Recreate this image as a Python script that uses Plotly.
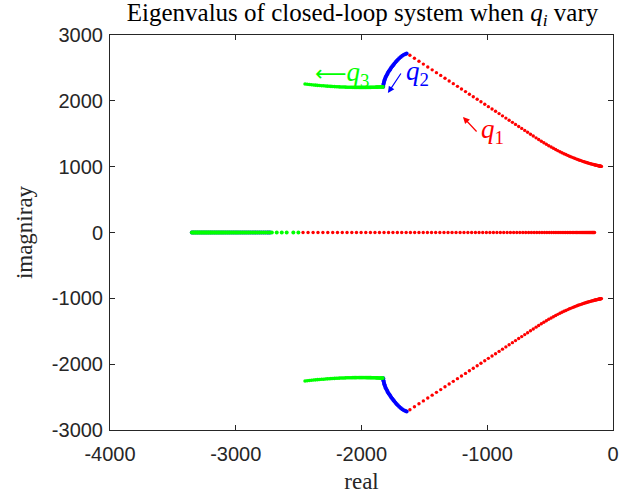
import plotly.graph_objects as go

# ---------------- data ----------------
# q1 sweep (red): complex branch (upper half) and real-axis branch
red_up_x = [-1615, -1579, -1543, -1508, -1473, -1438, -1404, -1370, -1336, -1303,
            -1270, -1237, -1205, -1173, -1142, -1111, -1080, -1050, -1020, -991,
            -962, -934, -906, -879, -852, -826, -800, -775, -750, -726,
            -702, -679, -656, -634, -612, -591, -570, -550, -530, -511,
            -492, -474, -456, -439, -422, -406, -390, -375, -360, -346,
            -332, -319, -306, -294, -282, -271, -260, -250, -240, -230,
            -221, -212, -204, -196, -188, -181, -174, -167, -160, -154,
            -148, -142, -137, -132, -127, -122, -117, -112, -108, -104,
            -100, -96, -92]
red_up_y = [2692, 2647, 2602, 2558, 2515, 2471, 2428, 2386, 2343, 2302,
            2261, 2220, 2180, 2140, 2101, 2062, 2023, 1986, 1948, 1912,
            1876, 1841, 1806, 1772, 1738, 1706, 1673, 1642, 1611, 1581,
            1551, 1522, 1493, 1466, 1438, 1412, 1386, 1363, 1340, 1318,
            1298, 1279, 1260, 1243, 1227, 1212, 1197, 1184, 1171, 1159,
            1148, 1138, 1128, 1119, 1110, 1102, 1095, 1088, 1081, 1075,
            1069, 1064, 1059, 1054, 1050, 1046, 1042, 1039, 1035, 1032,
            1029, 1026, 1024, 1021, 1019, 1017, 1015, 1012, 1010, 1009,
            1007, 1006, 1004]
red_real_x = [-2465, -2425, -2385, -2346, -2307, -2268, -2229, -2191, -2153, -2115,
              -2077, -2040, -2003, -1966, -1929, -1893, -1857, -1821, -1785, -1750,
              -1715, -1680, -1645, -1611, -1577, -1543, -1509, -1476, -1443, -1410,
              -1377, -1344, -1312, -1280, -1248, -1216, -1185, -1154, -1124, -1094,
              -1065, -1036, -1007, -979, -951, -923, -896, -869, -842, -816,
              -790, -765, -741, -717, -694, -671, -649, -627, -606, -585,
              -565, -545, -526, -507, -489, -471, -454, -437, -421, -405,
              -390, -376, -362, -349, -336, -324, -312, -301, -290, -280,
              -270, -261, -252, -243, -235, -227, -219, -212, -205, -198,
              -191, -185, -179, -173, -167, -162, -157, -152, -147]

# q2 sweep (blue)
blue_up_x = [-1827, -1826, -1824, -1821, -1818, -1815, -1811, -1806, -1801, -1796,
             -1790, -1784, -1777, -1770, -1763, -1755, -1747, -1739, -1730, -1721,
             -1711, -1700, -1688, -1676, -1663, -1650, -1641]
blue_up_y = [2215, 2245, 2265, 2285, 2305, 2325, 2345, 2365, 2385, 2405,
             2425, 2445, 2465, 2485, 2505, 2525, 2545, 2565, 2585, 2605,
             2625, 2645, 2665, 2683, 2699, 2712, 2720]
blue_real_x = [-3349, -3335, -3320, -3305, -3290, -3275, -3260, -3245, -3230, -3215,
               -3200, -3185, -3170, -3155, -3140, -3125, -3110, -3095, -3080, -3065,
               -3050, -3035, -3020, -3005, -2990, -2975, -2960, -2945, -2930, -2915,
               -2900, -2885, -2870, -2855, -2840, -2825, -2810, -2795, -2780, -2765,
               -2750, -2738, -2726]

# q3 sweep (green)
green_up_x = [-2449, -2432, -2415, -2398, -2381, -2365, -2349, -2333, -2317, -2302,
              -2287, -2272, -2257, -2243, -2229, -2215, -2201, -2188, -2175, -2162,
              -2149, -2137, -2125, -2113, -2101, -2090, -2079, -2068, -2057, -2047,
              -2037, -2027, -2017, -2008, -1999, -1990, -1981, -1972, -1964, -1956,
              -1948, -1940, -1932, -1925, -1918, -1911, -1904, -1897, -1890, -1884,
              -1878, -1872, -1866, -1860, -1854, -1849, -1844, -1839, -1834, -1829]
green_up_y = [2256, 2252, 2248, 2245, 2241, 2238, 2235, 2233, 2230, 2228,
              2225, 2223, 2221, 2219, 2218, 2216, 2214, 2213, 2212, 2211,
              2210, 2209, 2208, 2207, 2207, 2206, 2206, 2205, 2205, 2205,
              2204, 2204, 2204, 2204, 2204, 2204, 2204, 2204, 2204, 2205,
              2205, 2205, 2205, 2205, 2206, 2206, 2206, 2207, 2207, 2208,
              2208, 2208, 2209, 2209, 2210, 2210, 2210, 2211, 2211, 2212]
green_real_x = [-3349, -3341, -3333, -3325, -3317, -3309, -3301, -3293, -3285, -3277,
                -3269, -3261, -3253, -3245, -3237, -3229, -3221, -3213, -3205, -3197,
                -3189, -3180, -3171, -3162, -3153, -3144, -3135, -3126, -3117, -3108,
                -3099, -3089, -3079, -3069, -3059, -3049, -3039, -3028, -3017, -3006,
                -2995, -2984, -2972, -2960, -2948, -2936, -2923, -2910, -2897, -2884,
                -2870, -2856, -2842, -2827, -2812, -2797, -2781, -2765, -2748, -2731,
                -2713, -2674, -2634, -2595, -2542, -2502]

x_ticks = [-4000, -3000, -2000, -1000, 0]
y_ticks = [-3000, -2000, -1000, 0, 1000, 2000, 3000]

RED, BLUE, GREEN = "#FF0000", "#0000FF", "#00FF00"
SERIF = "Liberation Serif, Times New Roman, serif"
SANS = "Liberation Sans, Arial, Helvetica, sans-serif"
AXC = "#262626"

fig = go.Figure()


def add_branch(xs, ys, color, size):
    fig.add_trace(go.Scatter(x=xs, y=ys, mode="markers", showlegend=False,
                             hoverinfo="skip",
                             marker=dict(color=color, size=size, line=dict(width=0))))


# red (q1)
add_branch(red_up_x, red_up_y, RED, 3.4)
add_branch(red_up_x, [-v for v in red_up_y], RED, 3.4)
add_branch(red_real_x, [0] * len(red_real_x), RED, 3.4)
# blue (q2)
add_branch(blue_up_x, blue_up_y, BLUE, 4)
add_branch(blue_up_x, [-v for v in blue_up_y], BLUE, 4)
add_branch(blue_real_x, [0] * len(blue_real_x), BLUE, 4)
# green (q3)
add_branch(green_up_x, green_up_y, GREEN, 3.6)
add_branch(green_up_x, [-v for v in green_up_y], GREEN, 3.6)
add_branch(green_real_x, [0] * len(green_real_x), GREEN, 4)

ann_font = dict(family=SERIF, size=27)
ARROW = "font-family:DejaVu Sans;font-size:22px"
fig.add_annotation(x=-2155, y=2408, showarrow=False, font=dict(ann_font, color=GREEN),
                   text=f"<span style='{ARROW}'>⟵</span><i>q</i><sub>3</sub>")
# q2: label and thin arrow pointing down-left to the blue branch
fig.add_annotation(x=-1662, y=2423, xanchor="left", yanchor="middle", showarrow=False,
                   font=dict(ann_font, color=BLUE), text="<i>q</i><sub>2</sub>")
fig.add_annotation(x=-1790, y=2119, ax=14, ay=-21, showarrow=True, text="",
                   arrowhead=2, arrowsize=1.1, arrowwidth=1.2, arrowcolor=BLUE,
                   standoff=0, startstandoff=0)
# q1: label and thin arrow pointing up-left
fig.add_annotation(x=-1065, y=1542, xanchor="left", yanchor="middle", showarrow=False,
                   font=dict(ann_font, color=RED), text="<i>q</i><sub>1</sub>")
fig.add_annotation(x=-1193, y=1754, ax=15, ay=16, showarrow=True, text="",
                   arrowhead=2, arrowsize=1.1, arrowwidth=1.2, arrowcolor=RED,
                   standoff=0, startstandoff=0)

axis_common = dict(showgrid=False, zeroline=False, showline=True, mirror="allticks",
                   linecolor=AXC, linewidth=1, ticks="inside", ticklen=5,
                   automargin=False,
                   tickcolor=AXC, tickfont=dict(family=SANS, size=20, color=AXC))

fig.update_layout(
    width=641, height=495,
    margin=dict(l=110, r=28, t=35, b=65),
    paper_bgcolor="white", plot_bgcolor="white",
    title=dict(text="Eigenvalus of closed-loop system when <i>q</i><sub><i>i</i></sub> vary",
               x=0.5655, xanchor="center", y=0.993, yanchor="top",
               font=dict(family=SERIF, size=25, color="black")),
    xaxis=dict(axis_common, range=[-4000, 0], tickvals=x_ticks,
               ticktext=[str(v) for v in x_ticks], ticklabelstandoff=6,
               title=dict(text="real", font=dict(family=SERIF, size=23, color=AXC),
                          standoff=8)),
    yaxis=dict(axis_common, range=[-3000, 3000], tickvals=y_ticks,
               ticktext=[str(v) for v in y_ticks], ticklabelstandoff=2,
               title=dict(text="imagniray", font=dict(family=SERIF, size=23, color=AXC),
                          standoff=12)),
)

fig.write_html("out.html")
